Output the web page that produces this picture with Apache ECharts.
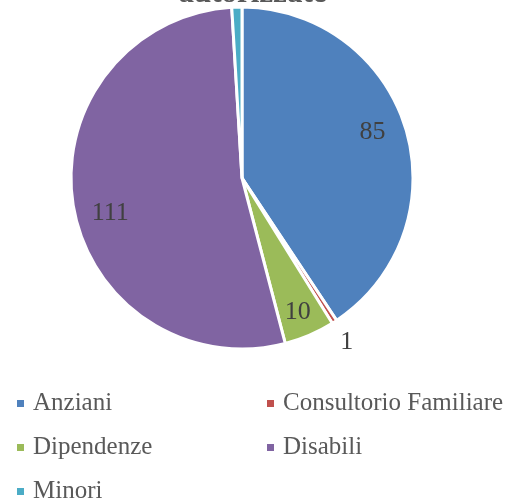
<!DOCTYPE html>
<html>
<head>
<meta charset="utf-8">
<script src="https://cdn.jsdelivr.net/npm/echarts@6/dist/echarts.min.js"></script>
<style>
  html, body { margin: 0; padding: 0; background: #fff; }
  #chart { width: 505px; height: 500px; }
</style>
</head>
<body>
<div id="chart"></div>
<script>
// dati
const categories = ['Anziani', 'Consultorio Familiare', 'Dipendenze', 'Disabili', 'Minori'];
const values = [85, 1, 10, 111, 2];
const colors = ['#4F81BD', '#C0504D', '#9BBB59', '#8064A2', '#4BACC6'];
const titleText = 'autorizzate';

const font = '"Liberation Serif", "DejaVu Serif", serif';
const R = 171;
// piccoli spostamenti delle etichette interne (come nel grafico originale)
const labelOffsets = [[-5, -5], [0, 0], [0, 4], [8, 13], [0, 0]];

const pieData = categories.map((name, i) => ({
  name: name,
  value: values[i],
  itemStyle: { color: colors[i] },
}));

const myChart = echarts.init(document.getElementById('chart'));
myChart.setOption({
  animation: false,
  title: {
    text: titleText,
    left: 'center',
    top: -27,
    textStyle: { fontFamily: font, fontWeight: 'bold', fontSize: 31, color: '#595959' },
  },
  legend: {
    left: 15,
    top: 391,
    width: 495,
    padding: 0,
    itemWidth: 9,
    itemHeight: 9,
    itemGap: 19,
    icon: 'rect',
    data: categories,
    textStyle: {
      fontFamily: font,
      fontSize: 25,
      lineHeight: 23,
      color: '#595959',
      width: 213,
      padding: [0, 0, 0, 3],
    },
  },
  series: [
    {
      // torta principale
      type: 'pie',
      center: [242, 178],
      radius: [0, R],
      startAngle: 90,
      clockwise: true,
      avoidLabelOverlap: false,
      itemStyle: { borderColor: '#fff', borderWidth: 3 },
      label: { show: false },
      labelLine: { show: false },
      data: pieData.map((d, i) => {
        // solo "1" fuori dalla torta
        if (i === 1) {
          return Object.assign({}, d, {
            label: {
              show: true,
              position: 'outside',
              formatter: '{c}',
              fontFamily: font,
              fontSize: 26,
              color: '#404040',
              distanceToLabelLine: 0,
              offset: [-5, 3],
            },
            labelLine: { show: false, length: 20, length2: 0 },
          });
        }
        return d;
      }),
    },
    {
      // serie trasparente per le etichette interne (a 0.8 del raggio)
      type: 'pie',
      center: [242, 178],
      radius: [0, R * 1.62],
      startAngle: 90,
      clockwise: true,
      silent: true,
      tooltip: { show: false },
      itemStyle: { color: 'rgba(0,0,0,0)', borderWidth: 0 },
      emphasis: { disabled: true },
      label: {
        show: true,
        position: 'inside',
        formatter: (p) => (p.dataIndex === 1 || p.dataIndex === 4 ? '' : String(p.value)),
        fontFamily: font,
        fontSize: 26,
        color: '#404040',
      },
      labelLine: { show: false },
      data: categories.map((name, i) => ({
        name: name,
        value: values[i],
        label: { offset: labelOffsets[i] },
      })),
    },
  ],
});
</script>
</body>
</html>
